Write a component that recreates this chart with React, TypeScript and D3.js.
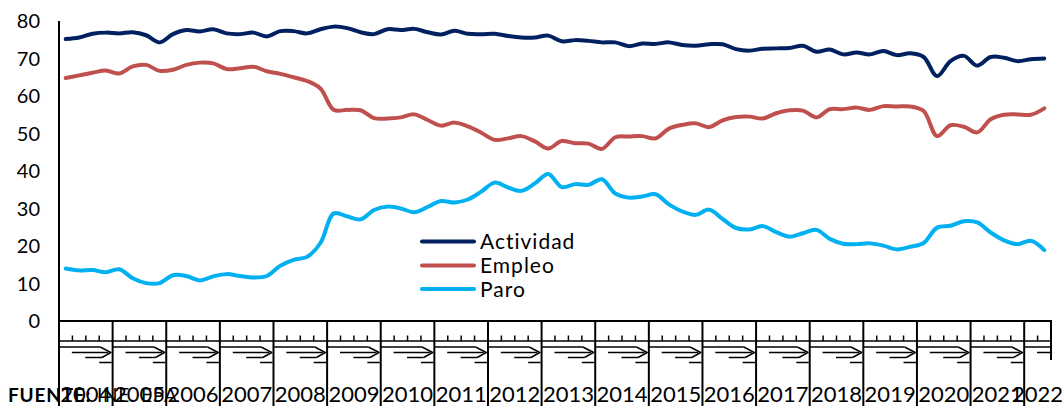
import React from "react";
import * as d3 from "d3";

const years = ["2004","2005","2006","2007","2008","2009","2010","2011","2012","2013","2014","2015","2016","2017","2018","2019","2020","2021","2022"];
const quarterNames = ["T1","T2","T3","T4"];
const quartersInYear = [4,4,4,4,4,4,4,4,4,4,4,4,4,4,4,4,4,4,2];
const yTicks = [0,10,20,30,40,50,60,70,80];

const actividad = [
  75.2, 75.6, 76.6, 76.9,
  76.7, 77.0, 76.2, 74.3,
  76.5, 77.6, 77.2, 77.8,
  76.7, 76.5, 76.9, 75.9,
  77.3, 77.3, 76.7, 77.8,
  78.5, 78.1, 77.0, 76.5,
  77.8, 77.6, 77.9, 77.0,
  76.4, 77.4, 76.6, 76.5,
  76.6, 76.0, 75.6, 75.6,
  76.1, 74.6, 74.9, 74.7,
  74.3, 74.3, 73.3, 74.0,
  73.9, 74.3, 73.6, 73.4,
  73.8, 73.8, 72.5, 72.1,
  72.6, 72.7, 72.8, 73.4,
  71.8, 72.4, 71.1, 71.6,
  71.1, 72.0, 70.9, 71.4,
  70.4, 65.3, 69.3, 70.7,
  68.1, 70.4, 70.2, 69.3,
  69.8, 70.0
];
const empleo = [
  64.8, 65.5, 66.2, 66.8,
  66.0, 67.9, 68.3, 66.7,
  67.0, 68.3, 68.9, 68.7,
  67.2, 67.4, 67.8, 66.6,
  65.9, 65.0, 64.0, 62.0,
  56.3, 56.3, 56.2, 54.1,
  54.0, 54.3, 55.1, 53.6,
  52.1, 52.9, 51.9, 50.2,
  48.3, 48.7, 49.3, 47.9,
  46.0, 48.0, 47.4, 47.3,
  45.9, 49.0, 49.2, 49.3,
  48.7, 51.3, 52.3, 52.7,
  51.7, 53.5, 54.4, 54.5,
  54.0, 55.4, 56.2, 56.1,
  54.3, 56.5, 56.5, 56.9,
  56.3, 57.3, 57.2, 57.2,
  56.0, 49.3, 52.2, 51.8,
  50.3, 53.8, 55.0, 55.1,
  55.0, 56.7
];
const paro = [
  14.0, 13.5, 13.6, 13.0,
  13.8, 11.4, 10.1, 10.1,
  12.2, 12.0, 10.8, 11.9,
  12.5, 12.0, 11.6, 12.0,
  14.7, 16.3, 17.1, 20.8,
  28.7, 27.9, 27.1, 29.6,
  30.5, 30.0, 29.0, 30.4,
  32.0, 31.6, 32.4, 34.5,
  36.9, 35.6, 34.7, 36.7,
  39.2, 35.7, 36.5, 36.3,
  37.8, 34.0, 32.9, 33.2,
  33.8, 31.1, 29.2, 28.3,
  29.7, 27.2, 24.8, 24.4,
  25.3, 23.7, 22.5, 23.4,
  24.3, 21.9, 20.6, 20.5,
  20.7, 20.1, 19.1, 19.8,
  20.8, 24.9, 25.4, 26.6,
  26.3, 23.6, 21.5, 20.5,
  21.4, 18.9
];

const seriesNames = ["Actividad", "Empleo", "Paro"];
const seriesColors = ["#002060", "#C0504D", "#00B0F0"];
const seriesData = [actividad, empleo, paro];

const W = 1063, H = 406;
const left = 59, right = 1051, top = 21, bottom = 321;
const FONT = "Lato, 'Open Sans', sans-serif";

export default function App() {
  const categories: string[] = [];
  years.forEach((y, i) => {
    for (let q = 0; q < quartersInYear[i]; q++) categories.push(`${y}-${quarterNames[q]}`);
  });
  const x = d3.scaleBand<string>().domain(categories).range([left, right]).padding(0);
  const bw = x.bandwidth();
  const y = d3.scaleLinear().domain([0, 80]).range([bottom, top]);
  const line = d3.line<number>()
    .x((_, i) => (x(categories[i]) as number) + bw / 2)
    .y((d) => y(d))
    .curve(d3.curveCatmullRom.alpha(0.5));

  const blocks = years.map((yr, i) => {
    const first = `${yr}-${quarterNames[0]}`;
    const last = `${yr}-${quarterNames[quartersInYear[i] - 1]}`;
    const sx = x(first) as number;
    const ex = (x(last) as number) + bw;
    return { yr, sx, ex, n: quartersInYear[i] };
  });

  return (
    <svg width={W} height={H} style={{ position: "absolute", left: 0, top: 0, background: "#fff" }}>
      <defs>
        {blocks.map((b, i) => (
          <clipPath id={`clip${i}`} key={i}>
            <rect x={b.sx} y={322} width={b.ex - b.sx - 1} height={60} />
          </clipPath>
        ))}
      </defs>
      {yTicks.map((t) => (
        <text key={t} x={40} y={y(t)} dy="0.36em" textAnchor="end" fontFamily={FONT} fontSize={20} fill="#000">{t}</text>
      ))}
      {seriesData.map((d, i) => (
        <path key={i} d={line(d) || ""} fill="none" stroke={seriesColors[i]} strokeWidth={4} strokeLinecap="round" strokeLinejoin="round" />
      ))}
      <line x1={left} x2={left} y1={top} y2={H} stroke="#000" strokeWidth={2} />
      <line x1={left} x2={right + 1} y1={bottom} y2={bottom} stroke="#000" strokeWidth={2} />
      <line x1={left} x2={right} y1={341} y2={341} stroke="#000" strokeWidth={1.5} />
      {blocks.map((b, i) => {
        const w = bw * 4;
        const sx = b.sx;
        const ticks = d3.range(1, b.n).map((k) => sx + k * bw);
        return (
          <g key={b.yr}>
            {ticks.map((tx, k) => (
              <line key={k} x1={tx} x2={tx} y1={335.5} y2={341} stroke="#000" strokeWidth={1.5} />
            ))}
            <g clipPath={`url(#clip${i})`} stroke="#000" strokeWidth={1.5} fill="none">
              <line x1={sx} x2={sx + w * 0.77} y1={347} y2={347} />
              <line x1={sx + w * 0.24} x2={sx + w * 0.92} y1={352.5} y2={352.5} />
              <line x1={sx + w * 0.49} x2={sx + w * 0.8} y1={357.5} y2={357.5} />
              <polyline points={`${sx + w * 0.77},${347} ${sx + w * 0.97},${352.5} ${sx + w * 0.8},${357.5}`} />
              <line x1={sx + w * 0.75} x2={sx + w} y1={362.5} y2={362.5} />
            </g>
            <line x1={b.ex} x2={b.ex} y1={bottom} y2={i === blocks.length - 1 ? 360 : H} stroke="#000" strokeWidth={2} />
          </g>
        );
      })}
      {blocks.map((b) => (
        <text key={b.yr} x={(b.sx + b.ex) / 2} y={402} textAnchor="middle" fontFamily={FONT} fontSize={22} fill="#000">{b.yr}</text>
      ))}
      <text x={8} y={402} fontFamily={FONT} fontSize={19} letterSpacing={0.8} fill="#000">
        <tspan fontWeight="bold">FUENTE:</tspan>
        <tspan> INE. EPA</tspan>
      </text>
      {seriesNames.map((n, i) => {
        const ly = [241.5, 265.5, 289][i];
        return (
          <g key={n}>
            <line x1={422} x2={474} y1={ly} y2={ly} stroke={seriesColors[i]} strokeWidth={4} strokeLinecap="round" />
            <text x={480} y={ly} dy="0.36em" fontFamily={FONT} fontSize={21} letterSpacing={1} fill="#000">{n}</text>
          </g>
        );
      })}
    </svg>
  );
}
